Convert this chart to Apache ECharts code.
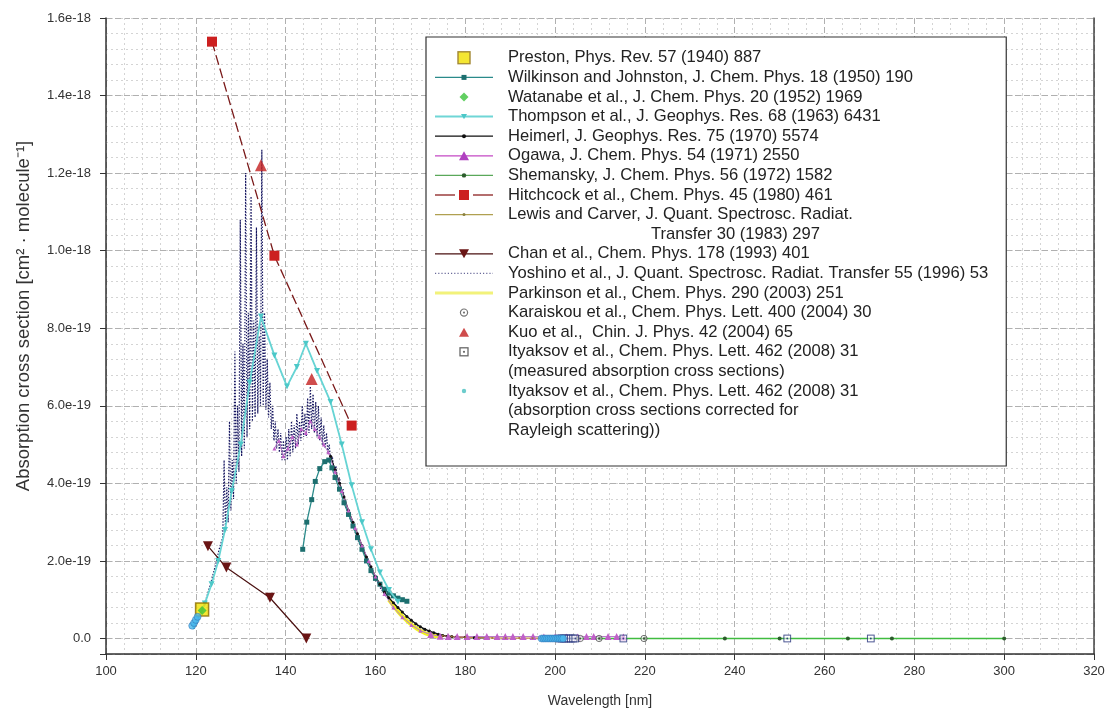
<!DOCTYPE html>
<html><head><meta charset="utf-8">
<script src="https://cdn.jsdelivr.net/npm/echarts@6/dist/echarts.min.js"></script>
<style>html,body{margin:0;padding:0;background:#fff}#c{width:1109px;height:710px}</style>
</head><body><div id="c"></div>
<script>
// y values below are in units of 1e-19 cm^2 / molecule
const Y_UNIT = 1e-19;
const X_MIN = 100, X_MAX = 320, X_STEP = 20;
const Y_MIN = -0.4, Y_MAX = 16, Y_STEP = 2, Y_MINOR = 0.4;

const preston = [[121.4, 0.75]];
const watanabe = [[121.4, 0.72]];
const wilkinson = [[143.8,2.3],[144.7,3.0],[145.8,3.58],[146.6,4.05],[147.6,4.38],[148.7,4.56],[149.6,4.6],[150.3,4.4],[151.0,4.15],[152.0,3.85],[153.0,3.5],[154.0,3.2],[155.0,2.9],[156.0,2.6],[157.0,2.3],[158.0,2.0],[159.0,1.75],[160.0,1.55],[161.0,1.4],[162.0,1.27],[163.0,1.17],[164.0,1.1],[165.0,1.04],[166.0,1.0],[167.0,0.96]];
const thompson = [[119.5,0.3],[120.5,0.5],[122,0.9],[123.5,1.4],[125,2.0],[126.5,2.8],[128,3.8],[130,5.0],[132,6.6],[134.5,8.3],[137.5,7.3],[140.3,6.5],[142.5,7.0],[144.5,7.6],[147,6.9],[150,6.1],[152.5,5.0],[154.7,3.95],[157,3.0],[159,2.3],[161,1.7],[163,1.25],[165,0.95]];
const heimerl = [[150,4.7],[151,4.35],[152,4.0],[153,3.65],[154,3.3],[155,3.0],[156,2.7],[157,2.4],[158,2.1],[159,1.85],[160,1.6],[161,1.4],[162,1.2],[163,1.05],[164,0.92],[165,0.8],[166,0.68],[167,0.57],[168,0.47],[169,0.38],[170,0.3],[171,0.24],[172,0.19],[173,0.15],[174,0.11],[175,0.08],[176,0.06],[177,0.05],[178,0.04],[180,0.03],[182,0.02],[185,0.015]];
const ogawa = [[137.5,4.9],[138.5,5.1],[139.5,4.7],[140.5,4.9],[141.5,5.2],[142.5,5.0],[143.5,5.4],[144.5,5.3],[145.5,5.6],[146.5,5.4],[147.5,5.2],[148.5,5.0],[149.5,4.8],[151,4.3],[152.5,3.8],[154,3.3],[155.5,2.85],[157,2.4],[158.5,2.0],[160,1.6],[162,1.15],[164,0.8],[166,0.55],[168,0.35],[170,0.2],[172.3,0.1],[174.4,0.06],[176.2,0.05],[178.2,0.05],[180.4,0.05],[182.6,0.05],[184.8,0.05],[187.1,0.05],[188.9,0.05],[190.6,0.05],[192.9,0.05],[195.1,0.05],[197.5,0.04],[200,0.04],[202.5,0.04],[205,0.04],[207,0.05],[208.6,0.05],[211.8,0.05],[213.7,0.05],[215.2,0.04]];
const shemansky = [[198,0.0],[205,0.0],[210,0.0],[220,0.0],[237.8,0.0],[250,0.0],[265.2,0.0],[275,0.0],[300,0.0]];
const hitchcock = [[123.6,15.39],[137.5,9.87],[154.7,5.49]];
const lewis = [[175,0.07],[177,0.05],[180,0.03],[183,0.02],[186,0.015],[189,0.01],[192,0.01],[195,0.008],[198,0.006],[200,0.005]];
const chan = [[122.7,2.38],[126.8,1.83],[136.5,1.05],[144.6,0.0]];
const yoshino = [[119.5,0.25],[120.5,0.45],[121.5,0.75],[122.5,1.1],[123.5,1.5],[124.5,1.95],[125.2,2.3],[125.7,2.5],
[126.0,2.6],[126.3,4.6],[126.6,2.8],[126.9,3.9],[127.2,3.0],[127.5,5.6],[127.8,3.3],[128.1,4.6],[128.4,3.6],[128.7,7.4],[129.0,4.0],[129.3,6.0],[129.6,4.3],[129.9,10.8],[130.2,4.7],[130.5,7.6],[130.8,4.9],[131.1,12.0],[131.4,5.2],[131.7,8.4],[132.0,5.4],[132.3,11.4],[132.6,5.6],[132.9,8.2],[133.2,5.7],[133.5,10.6],[133.8,5.8],[134.1,7.8],[134.4,6.0],[134.7,12.6],[135.0,6.0],[135.3,8.4],[135.6,5.9],[135.9,7.2],[136.2,5.7],[136.5,6.6],[136.8,5.4],[137.1,6.0],[137.4,5.1],
[137.7,5.6],[138.0,4.9],[138.3,5.4],[138.6,4.8],[138.9,5.3],[139.2,4.6],[139.5,5.1],[139.8,4.6],[140.1,5.2],[140.4,4.6],[140.7,5.4],[141.0,4.7],[141.3,5.6],[141.6,4.8],[141.9,5.5],[142.2,4.9],[142.5,5.8],[142.8,5.0],[143.1,5.6],[143.4,5.1],[143.7,6.0],[144.0,5.2],[144.3,5.8],[144.6,5.2],[144.9,6.2],[145.2,5.3],[145.5,6.5],[145.8,5.4],[146.1,6.3],[146.4,5.3],[146.7,6.1],[147.0,5.2],[147.3,6.0],[147.6,5.1],[147.9,5.7],[148.2,5.0],[148.5,5.5],[148.8,4.9],[149.1,5.3],[149.4,4.8],[149.7,5.0],
[150.0,4.6],[150.4,4.7],[150.8,4.3],[151.2,4.45],[151.6,4.05],[152.0,4.15],[152.4,3.75],[152.8,3.85],[153.2,3.45],[153.6,3.5],[154.0,3.2],[154.4,3.25],[154.8,2.95],[155.2,3.0],[155.6,2.7],[156.0,2.75],[156.4,2.45],[156.8,2.5],[157.2,2.25],[157.7,2.2],[158.2,1.95],[158.7,1.92],[159.2,1.7],[159.7,1.66],[160.2,1.46],[160.7,1.42],[161.2,1.27],[161.7,1.22],[162.2,1.1],[162.7,1.06],[163.2,0.95],[163.7,0.9],[164.2,0.8],[165,0.7],[166,0.6],[167,0.5],[168,0.42],[169,0.35],[170,0.28],[171,0.22],[172,0.17],[173,0.13],[174,0.1],[175,0.08],[177,0.05],[180,0.03]];
const parkinson = [[163,1.0],[164,0.85],[165,0.7],[166,0.57],[167,0.46],[168,0.36],[169,0.27],[170,0.2],[171,0.14],[172,0.1],[173,0.07],[175,0.04]];
const karaiskou = [[205.6,0.0],[209.8,0.0],[219.8,0.0]];
const kuo = [[134.5,12.2],[145.8,6.69]];
const ityaksovMeasured = [[201.0,0.0],[201.5,0.0],[202.0,0.0],[202.5,0.0],[203.0,0.0],[203.5,0.0],[204.0,0.0],[204.5,0.0],[215.2,0.0],[251.7,0.0],[270.3,0.0]];
const ityaksovCorrected = [[119.2,0.33],[119.6,0.4],[120.0,0.48],[120.4,0.56],[197.0,0.0],[197.4,0.0],[197.8,0.0],[198.2,0.0],[198.6,0.0],[199.0,0.0],[199.4,0.0],[199.8,0.0],[200.2,0.0],[200.6,0.0],[201.0,0.0],[201.4,0.0],[201.8,0.0]];

const LABELS = {
  preston: 'Preston, Phys. Rev. 57 (1940) 887',
  wilkinson: 'Wilkinson and Johnston, J. Chem. Phys. 18 (1950) 190',
  watanabe: 'Watanabe et al., J. Chem. Phys. 20 (1952) 1969',
  thompson: 'Thompson et al., J. Geophys. Res. 68 (1963) 6431',
  heimerl: 'Heimerl, J. Geophys. Res. 75 (1970) 5574',
  ogawa: 'Ogawa, J. Chem. Phys. 54 (1971) 2550',
  shemansky: 'Shemansky, J. Chem. Phys. 56 (1972) 1582',
  hitchcock: 'Hitchcock et al., Chem. Phys. 45 (1980) 461',
  lewis: 'Lewis and Carver, J. Quant. Spectrosc. Radiat.',
  lewis_2: '                               Transfer 30 (1983) 297',
  chan: 'Chan et al., Chem. Phys. 178 (1993) 401',
  yoshino: 'Yoshino et al., J. Quant. Spectrosc. Radiat. Transfer 55 (1996) 53',
  parkinson: 'Parkinson et al., Chem. Phys. 290 (2003) 251',
  karaiskou: 'Karaiskou et al., Chem. Phys. Lett. 400 (2004) 30',
  kuo: 'Kuo et al.,  Chin. J. Phys. 42 (2004) 65',
  ityM: 'Ityaksov et al., Chem. Phys. Lett. 462 (2008) 31',
  ityM_2: '(measured absorption cross sections)',
  ityC: 'Ityaksov et al., Chem. Phys. Lett. 462 (2008) 31',
  ityC_2: '(absorption cross sections corrected for',
  ityC_3: 'Rayleigh scattering))'
};

function svgUri(w, h, inner) {
  const s = '<svg xmlns="http://www.w3.org/2000/svg" width="' + w + '" height="' + h + '" viewBox="0 0 ' + w + ' ' + h + '">' + inner + '</svg>';
  return 'image://data:image/svg+xml;charset=utf-8,' + encodeURIComponent(s);
}
function ln(color, w, dash) {
  return '<line x1="0" y1="7" x2="58" y2="7" stroke="' + color + '" stroke-width="' + w + '"' + (dash ? ' stroke-dasharray="' + dash + '"' : '') + '/>';
}
function sq(s, fill, stroke, sw) { return '<rect x="' + (29 - s / 2) + '" y="' + (7 - s / 2) + '" width="' + s + '" height="' + s + '" fill="' + fill + '"' + (stroke ? ' stroke="' + stroke + '" stroke-width="' + sw + '"' : '') + '/>'; }
function tri(s, fill, down) {
  const h = s * 0.9, y0 = down ? 7 + h / 2 : 7 - h / 2, y1 = down ? 7 - h / 2 : 7 + h / 2;
  return '<polygon points="29,' + y0 + ' ' + (29 - s / 2) + ',' + y1 + ' ' + (29 + s / 2) + ',' + y1 + '" fill="' + fill + '"/>';
}
function dot(r, fill) { return '<circle cx="29" cy="7" r="' + r + '" fill="' + fill + '"/>'; }

const circleDotSym = svgUri(16, 16, '<circle cx="8" cy="8" r="5.6" fill="#fff" fill-opacity="0.6" stroke="#3a3a3a" stroke-width="1.6"/><circle cx="8" cy="8" r="1.7" fill="#3a3a3a"/>');
const squareDotSym = svgUri(16, 16, '<rect x="2" y="2" width="12" height="12" fill="#fff" fill-opacity="0.7" stroke="#23307a" stroke-width="1.8"/><circle cx="8" cy="8" r="1.7" fill="#23307a"/>');

const ICONS = {
  preston: svgUri(68, 14, sq(12, '#f2e000', '#8a6a00', 1.4)),
  wilkinson: svgUri(68, 14, ln('#2a8a8a', 1.2) + sq(5, '#1d6f6f')),
  watanabe: svgUri(68, 14, '<polygon points="29,2.5 33.5,7 29,11.5 24.5,7" fill="#3cc43c"/>'),
  thompson: svgUri(68, 14, ln('#6fd6d6', 2) + tri(6, '#4cc8c8', true)),
  heimerl: svgUri(68, 14, ln('#111', 1.3) + dot(2, '#111')),
  ogawa: svgUri(68, 14, ln('#c448c4', 1.3) + tri(10, '#b040c0', false)),
  shemansky: svgUri(68, 14, ln('#5aa85a', 1.3) + dot(2.2, '#2c5c2c')),
  hitchcock: svgUri(68, 14, '<line x1="0" y1="7" x2="20" y2="7" stroke="#8b2020" stroke-width="1.3"/><line x1="38" y1="7" x2="58" y2="7" stroke="#8b2020" stroke-width="1.3"/>' + sq(10, '#cc2020')),
  lewis: svgUri(68, 14, ln('#b0a050', 1.3) + dot(1.5, '#8a8040')),
  lewis_2: svgUri(68, 14, ''),
  chan: svgUri(68, 14, ln('#4a1010', 1.3) + tri(10, '#6a1515', true)),
  yoshino: svgUri(68, 14, ln('#6a6a9a', 1.2, '1.2,2')),
  parkinson: svgUri(68, 14, ln('#f2f27a', 3)),
  karaiskou: svgUri(68, 14, '<circle cx="29" cy="7" r="3.6" fill="none" stroke="#555" stroke-width="1.2"/>' + dot(1.1, '#555')),
  kuo: svgUri(68, 14, tri(10, '#c42020', false)),
  ityM: svgUri(68, 14, '<rect x="25" y="3" width="8" height="8" fill="none" stroke="#444" stroke-width="1.3"/>' + dot(1.1, '#444')),
  ityM_2: svgUri(68, 14, ''),
  ityC: svgUri(68, 14, dot(2.2, '#48c0c0')),
  ityC_2: svgUri(68, 14, ''),
  ityC_3: svgUri(68, 14, '')
};
const LEGEND_ORDER = ['preston','wilkinson','watanabe','thompson','heimerl','ogawa','shemansky','hitchcock','lewis','lewis_2','chan','yoshino','parkinson','karaiskou','kuo','ityM','ityM_2','ityC','ityC_2','ityC_3'];

const FONT = 'Liberation Sans, Arial, sans-serif';
const base = { yAxisIndex: 1, animation: false };
const series = [
  Object.assign({ name: 'preston', type: 'scatter', data: preston, symbol: 'rect', symbolSize: 13, z: 5,
    itemStyle: { color: '#f2e000', borderColor: '#8a6a00', borderWidth: 1.5 } }, base),
  Object.assign({ name: 'wilkinson', type: 'line', data: wilkinson, symbol: 'rect', symbolSize: 5,
    lineStyle: { color: '#2a8a8a', width: 1.3 }, itemStyle: { color: '#1d6f6f' } }, base),
  Object.assign({ name: 'watanabe', type: 'scatter', data: watanabe, symbol: 'diamond', symbolSize: 9, z: 6,
    itemStyle: { color: '#3cc43c' } }, base),
  Object.assign({ name: 'thompson', type: 'line', data: thompson, symbol: 'triangle', symbolRotate: 180, symbolSize: 6, z: 4,
    lineStyle: { color: '#66d4d4', width: 1.8 }, itemStyle: { color: '#4cc8c8' } }, base),
  Object.assign({ name: 'heimerl', type: 'line', data: heimerl, symbol: 'circle', symbolSize: 3, z: 3,
    lineStyle: { color: '#111', width: 1.3 }, itemStyle: { color: '#111' } }, base),
  Object.assign({ name: 'ogawa', type: 'line', data: ogawa, symbol: 'triangle',
    symbolSize: function (v) { return v[0] > 172 ? 7 : 4; },
    lineStyle: { color: '#b878c8', width: 1 }, itemStyle: { color: '#c060c8' } }, base),
  Object.assign({ name: 'shemansky', type: 'line', data: shemansky, symbol: 'circle', symbolSize: 4,
    lineStyle: { color: '#40bc40', width: 1.5 }, itemStyle: { color: '#2c5c2c' } }, base),
  Object.assign({ name: 'hitchcock', type: 'line', data: hitchcock, symbol: 'rect', symbolSize: 10, z: 4,
    lineStyle: { color: '#7a1a1a', width: 1.3, type: [10, 4] }, itemStyle: { color: '#cc2020' } }, base),
  Object.assign({ name: 'lewis', type: 'line', data: lewis, symbol: 'circle', symbolSize: 2,
    lineStyle: { color: '#c09048', width: 1.3 }, itemStyle: { color: '#a07838' } }, base),
  Object.assign({ name: 'lewis_2', type: 'line', data: [] }, base),
  Object.assign({ name: 'chan', type: 'line', data: chan, symbol: 'triangle', symbolRotate: 180, symbolSize: 10, z: 4,
    lineStyle: { color: '#4a1010', width: 1.2 }, itemStyle: { color: '#6a1515' } }, base),
  Object.assign({ name: 'yoshino', type: 'line', data: yoshino, symbol: 'none', z: 2,
    lineStyle: { color: '#161660', width: 1.2, type: [1.4, 1.6] } }, base),
  Object.assign({ name: 'parkinson', type: 'line', data: parkinson, symbol: 'none', z: 2,
    lineStyle: { color: '#f0f020', width: 4 } }, base),
  Object.assign({ name: 'karaiskou', type: 'scatter', data: karaiskou, symbol: circleDotSym, symbolSize: 9, z: 5 }, base),
  Object.assign({ name: 'kuo', type: 'scatter', data: kuo, symbol: 'triangle', symbolSize: 12, z: 5,
    itemStyle: { color: '#c42020' } }, base),
  Object.assign({ name: 'ityM', type: 'scatter', data: ityaksovMeasured, symbol: squareDotSym, symbolSize: 9, z: 5 }, base),
  Object.assign({ name: 'ityM_2', type: 'line', data: [] }, base),
  Object.assign({ name: 'ityC', type: 'scatter', data: ityaksovCorrected, symbol: 'circle', symbolSize: 7, z: 6,
    itemStyle: { color: '#4ab8ec', borderColor: '#2a6ab0', borderWidth: 0.6 } }, base),
  Object.assign({ name: 'ityC_2', type: 'line', data: [] }, base),
  Object.assign({ name: 'ityC_3', type: 'line', data: [] }, base)
];

const chart = echarts.init(document.getElementById('c'), null, { renderer: 'canvas' });
chart.setOption({
  animation: false,
  backgroundColor: '#fff',
  textStyle: { fontFamily: FONT },
  grid: { left: 106, right: 15, top: 18, bottom: 56, containLabel: false, outerBoundsMode: 'none' },
  legend: {
    orient: 'vertical', left: 426, top: 37,
    padding: [11, 18, 26, 9], itemGap: 0, itemWidth: 68, itemHeight: 14,
    backgroundColor: '#fff', borderColor: '#333', borderWidth: 1.2,
    selectedMode: false,
    data: LEGEND_ORDER.map(function (n) { return { name: n, icon: ICONS[n] }; }),
    formatter: function (n) { return LABELS[n]; },
    textStyle: { fontSize: 16.6, lineHeight: 19.6, color: '#222', fontFamily: FONT }
  },
  xAxis: {
    type: 'value', min: X_MIN, max: X_MAX, interval: X_STEP,
    name: 'Wavelength [nm]', nameLocation: 'middle', nameGap: 40,
    nameTextStyle: { fontSize: 14, color: '#333', fontFamily: FONT },
    axisLine: { onZero: false, lineStyle: { color: '#333', width: 1.5 } },
    axisTick: { length: 6, lineStyle: { color: '#333' } },
    axisLabel: { fontSize: 13, color: '#333', margin: 11, fontFamily: FONT },
    splitLine: { show: true, lineStyle: { color: '#b0b0b0', width: 1, type: [6, 3] } },
    minorTick: { show: false, splitNumber: 5 },
    minorSplitLine: { show: true, lineStyle: { color: '#d4d4d4', width: 1, type: [2, 3] } }
  },
  yAxis: [
    {
      type: 'value', position: 'right', min: Y_MIN, max: Y_MAX, interval: Y_MINOR,
      axisLine: { show: true, lineStyle: { color: '#444', width: 1.5 } },
      axisTick: { show: false }, axisLabel: { show: false },
      splitLine: { show: true, lineStyle: { color: '#d4d4d4', width: 1, type: [2, 3] } }
    },
    {
      type: 'value', position: 'left', min: Y_MIN, max: Y_MAX, minInterval: Y_STEP, maxInterval: Y_STEP, splitNumber: 8,
      name: 'Absorption cross section [cm² · molecule⁻¹]', nameLocation: 'middle', nameGap: 73,
      nameTextStyle: { fontSize: 18.5, color: '#333', fontFamily: FONT, padding: [0, 0, 0, 40] },
      axisLine: { show: true, lineStyle: { color: '#333', width: 1.5 } },
      axisTick: { show: true, length: 6, lineStyle: { color: '#333' } },
      axisLabel: {
        fontSize: 13, color: '#333', margin: 15, fontFamily: FONT,
        formatter: function (v) {
          if (v < -1e-9) return '';
          if (Math.abs(v) < 1e-9) return '0.0';
          return (v * Y_UNIT).toExponential(1);
        }
      },
      splitLine: { show: true, lineStyle: { color: '#b0b0b0', width: 1, type: [6, 3] } }
    }
  ],
  series: series
});
</script>
</body></html>
